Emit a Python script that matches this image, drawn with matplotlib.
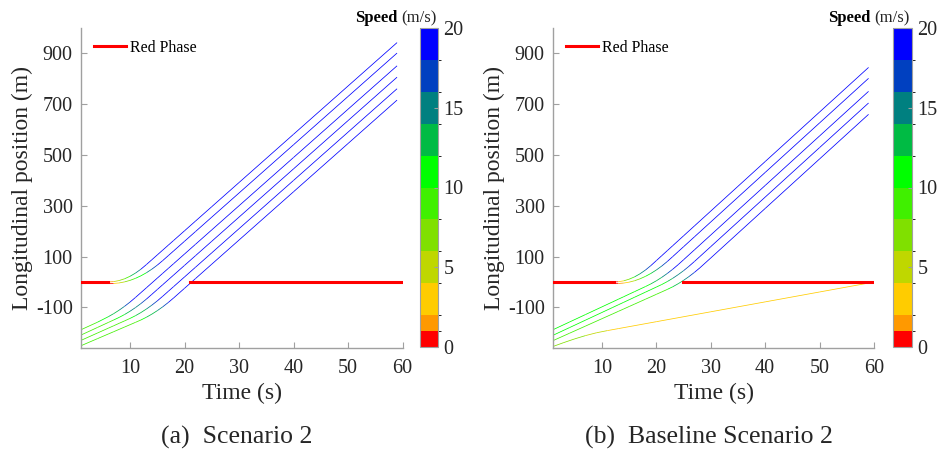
import numpy as np
import matplotlib
matplotlib.use('Agg')
import matplotlib.pyplot as plt
from matplotlib.collections import LineCollection
from matplotlib.colors import ListedColormap, BoundaryNorm
from matplotlib.cm import ScalarMappable

plt.rcParams['font.family'] = ['Liberation Serif', 'DejaVu Serif']
plt.rcParams['axes.unicode_minus'] = False

# speed colour bands (m/s)
speed_edges = [0, 1, 2, 4, 6, 8, 10, 12, 14, 16, 18, 20]
speed_colors = ['#ff0000', '#ff9900', '#ffcc00', '#bfd700', '#80e000', '#40f000',
                '#00ff00', '#00bb44', '#008080', '#0040c0', '#0000ff']
speed_ticks = [0, 5, 10, 15, 20]

# (a) Scenario 2 : time (s) and positions (m) of the six vehicles
t_a = [1, 4, 6, 7, 8, 9, 10, 11, 12, 13, 14, 15, 16, 17, 18, 20, 22, 25, 30, 40, 50, 59]
a_veh1 = [0, 0, 0, 1.4, 5.6, 12.6, 22.4, 35.0, 50.4, 68.5, 87.5, 106.5, 125.5, 144.5,
          163.5, 201.5, 239.5, 296.5, 391.5, 581.5, 771.5, 942.5]
a_veh2 = [-6, -6, -6, -5.8, -3.8, 0.3, 6.3, 14.3, 24.3, 36.3, 50.3, 66.3, 84.3, 103.3,
          122.3, 160.3, 198.3, 255.3, 350.3, 540.3, 730.3, 901.3]
a_veh3 = [-188, -158.7, -136.9, -124.7, -111.0, -95.8, -79.1, -60.9, -41.9, -22.9, -3.9,
          15.1, 34.1, 53.1, 72.1, 110.1, 148.1, 205.1, 300.1, 490.1, 680.1, 851.1]
a_veh4 = [-209, -179.3, -159.5, -149.6, -139.5, -128.1, -115.2, -100.8, -84.9, -67.5,
          -48.7, -29.7, -10.7, 8.3, 27.3, 65.3, 103.3, 160.3, 255.3, 445.3, 635.3, 806.3]
a_veh5 = [-230, -201.2, -182.0, -172.4, -162.8, -153.2, -143.5, -132.7, -120.4, -106.6,
          -91.3, -74.5, -56.2, -37.2, -18.2, 19.8, 57.8, 114.8, 209.8, 399.8, 589.8, 760.8]
a_veh6 = [-251, -223.4, -205.0, -195.8, -186.6, -177.4, -168.2, -159.0, -149.6, -138.9,
          -126.7, -113.0, -97.8, -81.1, -62.9, -24.9, 13.1, 70.1, 165.1, 355.1, 545.1, 716.1]
red_a_on = [1, 21]
red_a_off = [6, 60]

# (b) Baseline Scenario 2
t_b = [1, 4, 7, 10, 12, 13, 14, 15, 16, 17, 18, 19, 20, 21, 22, 23, 24, 25, 26, 27, 28,
       30, 35, 40, 50, 59]
b_veh1 = [0, 0, 0, 0, 0, 0.9, 4.5, 11.0, 20.2, 32.3, 47.1, 64.7, 84.2, 103.7, 123.2, 142.7,
          162.2, 181.7, 201.2, 220.7, 240.2, 279.2, 376.7, 474.2, 669.2, 844.7]
b_veh2 = [-6, -6, -6, -6, -6, -5.9, -4.3, -0.7, 4.9, 12.5, 22.1, 33.7, 47.3, 62.9, 80.5,
          99.8, 119.3, 138.8, 158.3, 177.8, 197.3, 236.3, 333.8, 431.3, 626.3, 801.8]
b_veh3 = [-188, -158, -128, -98, -78, -68, -58, -48, -38, -28, -18, -7.4, 4.7, 18.3, 33.4,
          50.0, 68.1, 87.5, 107.0, 126.5, 146.0, 185.0, 282.5, 380.0, 575.0, 750.5]
b_veh4 = [-210, -180, -150, -120, -100, -90, -80, -70, -60, -50, -40, -30, -20, -9.9, 1.5,
          14.3, 28.7, 44.5, 61.9, 80.7, 100.2, 139.2, 236.7, 334.2, 529.2, 704.7]
b_veh5 = [-231, -202.2, -173.4, -144.6, -125.4, -115.8, -106.2, -96.6, -87.0, -77.4, -67.8,
          -58.2, -48.6, -39.0, -29.4, -19.0, -7.0, 6.4, 21.4, 37.8, 55.8, 94.5, 192.0,
          289.5, 484.5, 660.0]
t_b_slow = [1, 3, 5, 7, 9, 11, 13, 20, 30, 40, 50, 59.8]
b_slow = [-254, -238.5, -224.0, -211.0, -200.0, -191.5, -183.7, -156.4, -117.4, -78.4,
          -39.4, -1.2]
red_b_on = [1, 24.9]
red_b_off = [12.2, 60]

cmap = ListedColormap(speed_colors)
norm = BoundaryNorm(speed_edges, cmap.N)
gray = '#a0a0a0'
txt = '#262626'


def add_track(ax, t, pos):
    t = np.asarray(t, float)
    pos = np.asarray(pos, float)
    pts = np.column_stack([t, pos])
    segs = np.stack([pts[:-1], pts[1:]], axis=1)
    lc = LineCollection(segs, cmap=cmap, norm=norm, linewidths=0.55, zorder=2)
    lc.set_array(np.diff(pos) / np.diff(t))
    ax.add_collection(lc)


def style_panel(ax, red_on, red_off):
    for k, (s, e) in enumerate(zip(red_on, red_off)):
        ax.plot([s, e], [0, 0], color='red', lw=2.2, zorder=3,
                label='Red Phase' if k == 0 else None)
    ax.set_xlim(1, 60)
    ax.set_ylim(-260, 1000)
    ax.set_xticks([10, 20, 30, 40, 50, 60])
    ax.set_yticks([-100, 100, 300, 500, 700, 900])
    for s in ['top', 'right']:
        ax.spines[s].set_visible(False)
    for s in ['left', 'bottom']:
        ax.spines[s].set_color(gray)
        ax.spines[s].set_linewidth(1.0)
    ax.tick_params(direction='in', length=4, color=gray, labelsize=14.5, labelcolor=txt)
    ax.tick_params(axis='x', pad=8)
    ax.tick_params(axis='y', pad=6)
    ax.set_xlabel('Time (s)', fontsize=17, color=txt)
    ax.set_ylabel('Longitudinal position (m)', fontsize=17, color=txt)
    ax.xaxis.set_label_coords(0.5, -0.11)
    ax.yaxis.set_label_coords(-0.15, 0.5)
    ax.legend(loc='center left', bbox_to_anchor=(0.04, 0.9375), frameon=False,
              fontsize=11.5, handlelength=2.0, handletextpad=0.25, borderpad=0,
              borderaxespad=0)


def add_cbar(fig, cax, x_right):
    sm = ScalarMappable(norm=norm, cmap=cmap)
    cb = fig.colorbar(sm, cax=cax, ticks=speed_ticks, spacing='proportional')
    cb.outline.set_edgecolor(gray)
    cb.outline.set_linewidth(0.8)
    cax.tick_params(direction='in', length=3, color=gray, labelsize=14.5,
                    labelcolor=txt, pad=4)
    cax.set_yticklabels([str(v) for v in speed_ticks])
    fig.text(x_right / 941, 0.951, '(m/s)', ha='right', va='baseline', fontsize=12,
             color=txt)
    fig.text((x_right - 40) / 941, 0.951, 'Speed', ha='right', va='baseline',
             fontsize=12, fontweight='bold', color='black')


fig = plt.figure(figsize=(9.41, 4.53), dpi=100)
ax_a = fig.add_axes([81 / 941, 105 / 453, 321.5 / 941, 320 / 453])
cax_a = fig.add_axes([420 / 941, 106 / 453, 18 / 941, 319 / 453])
ax_b = fig.add_axes([553 / 941, 105 / 453, 321 / 941, 320 / 453])
cax_b = fig.add_axes([893 / 941, 106 / 453, 19 / 941, 319 / 453])

for pos in [a_veh1, a_veh2, a_veh3, a_veh4, a_veh5, a_veh6]:
    add_track(ax_a, t_a, pos)
style_panel(ax_a, red_a_on, red_a_off)

for pos in [b_veh1, b_veh2, b_veh3, b_veh4, b_veh5]:
    add_track(ax_b, t_b, pos)
add_track(ax_b, t_b_slow, b_slow)
style_panel(ax_b, red_b_on, red_b_off)

add_cbar(fig, cax_a, 437)
add_cbar(fig, cax_b, 910)

fig.text(236.5 / 941, 0.035, '(a)  Scenario 2', ha='center', va='center',
         fontsize=18.5, color=txt)
fig.text(709 / 941, 0.035, '(b)  Baseline Scenario 2', ha='center', va='center',
         fontsize=18.5, color=txt)

fig.savefig('out.png', dpi=100)
